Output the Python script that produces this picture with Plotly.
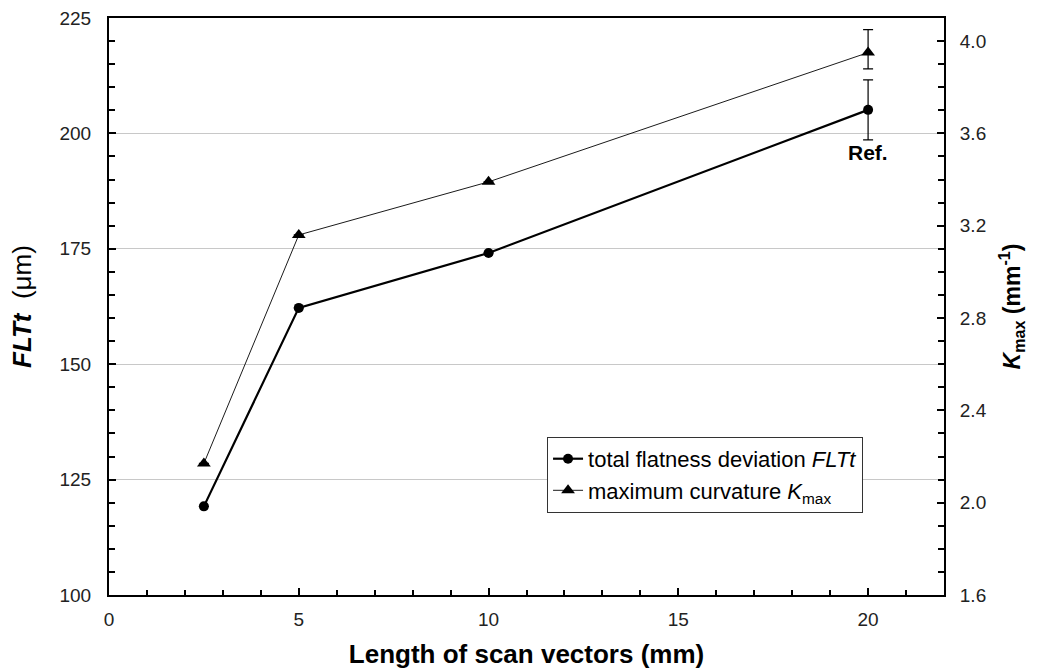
import plotly.graph_objects as go

scan_len = [2.5, 5, 10, 20]
flt = [119.2, 162.2, 174.1, 205.1]
flt_err = [0, 0, 0, 6.5]
kmax = [2.17, 3.16, 3.39, 3.95]
kmax_err_plus = [0, 0, 0, 0.10]
kmax_err_minus = [0, 0, 0, 0.07]

FONT = "Liberation Sans, Arial, sans-serif"
NB = "\u00a0"

fig = go.Figure()
fig.add_trace(go.Scatter(
    x=scan_len, y=flt, mode="lines+markers",
    name="total flatness deviation <i>FLTt</i>",
    line=dict(color="black", width=2.2),
    marker=dict(symbol="circle", size=10, color="black"),
    error_y=dict(type="data", array=flt_err, color="black", thickness=1.2, width=5),
    yaxis="y",
))
fig.add_trace(go.Scatter(
    x=scan_len, y=kmax, mode="lines+markers",
    name="maximum curvature <i>K</i><sub>max</sub>",
    line=dict(color="black", width=0.9),
    marker=dict(symbol="triangle-up", size=12, color="black"),
    error_y=dict(type="data", symmetric=False, array=kmax_err_plus, arrayminus=kmax_err_minus,
                 color="black", thickness=1.2, width=5),
    yaxis="y2",
))

fig.add_annotation(x=20, y=195.8, xref="x", yref="y", text="<b>Ref.</b>", showarrow=False,
                   font=dict(family=FONT, size=21, color="black"))

fig.update_layout(
    width=1042, height=672,
    margin=dict(l=109, r=98, t=18, b=77),
    paper_bgcolor="white", plot_bgcolor="white",
    font=dict(family=FONT, size=19, color="#222"),
    showlegend=True,
    legend=dict(x=0.5246, y=0.274, xanchor="left", yanchor="top",
                bordercolor="#333", borderwidth=1, bgcolor="white",
                font=dict(family=FONT, size=22, color="black"),
                tracegroupgap=0, itemwidth=30),
    xaxis=dict(
        range=[0, 22], dtick=5, tick0=0, showgrid=False, zeroline=False, automargin=False,
        showline=True, linecolor="black", linewidth=2, mirror=True,
        ticks="inside", ticklen=7, tickwidth=1.5, tickcolor="black",
        minor=dict(dtick=1, ticks="inside", ticklen=5, tickwidth=1.5, tickcolor="black"),
        tickfont=dict(family=FONT, size=19, color="#222"),
        ticklabelstandoff=6,
        title=dict(text="<b>Length of scan vectors (mm)</b>" + NB * 2, standoff=16,
                   font=dict(family=FONT, size=26, color="black")),
    ),
    yaxis=dict(
        range=[100, 225], dtick=25, tick0=100, showgrid=True, gridcolor="#c8c8c8", gridwidth=1,
        zeroline=False, showline=True, linecolor="black", linewidth=2, automargin=False,
        ticks="inside", ticklen=7, tickwidth=1.5, tickcolor="black",
        minor=dict(dtick=5, ticks="inside", ticklen=6, tickwidth=1.5, tickcolor="black", showgrid=False),
        tickfont=dict(family=FONT, size=19, color="#222"),
        ticklabelstandoff=12,
        title=dict(text="<b><i>FLTt</i></b>" + NB * 2 + "(μm)", standoff=20,
                   font=dict(family=FONT, size=26, color="black")),
    ),
    yaxis2=dict(
        range=[1.6, 4.1], dtick=0.4, tick0=1.6, tickformat=".1f", overlaying="y", side="right",
        showgrid=False, zeroline=False, showline=True, linecolor="black", linewidth=2,
        automargin=False,
        ticks="inside", ticklen=7, tickwidth=1.5, tickcolor="black",
        minor=dict(dtick=0.1, ticks="inside", ticklen=6, tickwidth=1.5, tickcolor="black", showgrid=False),
        tickfont=dict(family=FONT, size=19, color="#222"),
        ticklabelstandoff=10,
        title=dict(text=NB * 4 + "<b><i>K</i><sub>max</sub> (mm<sup>-1</sup>)</b>", standoff=18,
                   font=dict(family=FONT, size=23, color="black")),
    ),
)

fig.write_html("out.html")
